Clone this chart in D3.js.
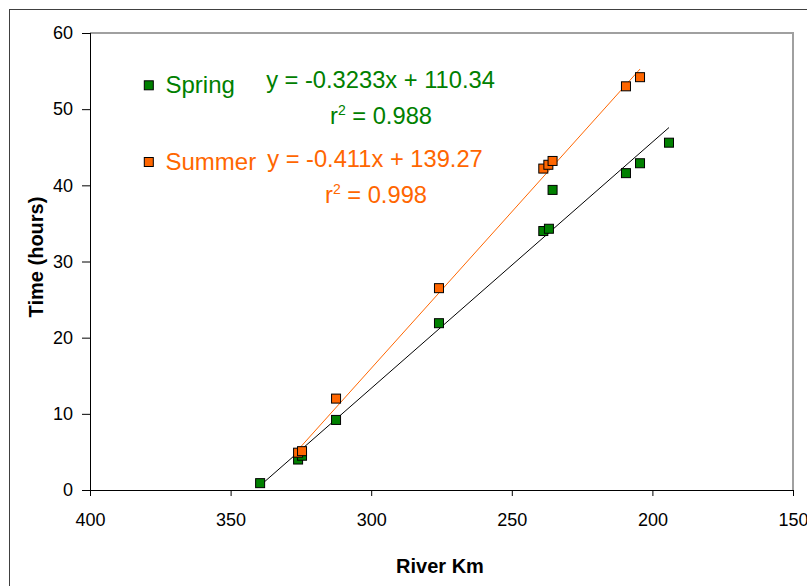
<!DOCTYPE html>
<html><head><meta charset="utf-8">
<script src="https://cdn.jsdelivr.net/npm/d3@7"></script>
<style>body{margin:0;background:#fff}svg{display:block}text{font-family:"Liberation Sans",Arial,sans-serif}</style>
</head><body>
<svg id="c" width="807" height="586"></svg>
<script>
const springKm = [339.5, 326, 324.6, 312.5, 275.9, 238.8, 236.8, 235.5, 209.4, 204.4, 194.1];
const springHours = [0.9, 4.0, 4.5, 9.2, 21.9, 34.0, 34.3, 39.4, 41.6, 42.9, 45.6];
const summerKm = [326, 324.6, 312.5, 275.9, 238.8, 237.0, 235.5, 209.4, 204.4];
const summerHours = [4.9, 5.1, 12.0, 26.5, 42.2, 42.7, 43.2, 53.0, 54.2];
const seriesNames = ["Spring", "Summer"];
const slopes = [-0.3233, -0.411];
const intercepts = [110.34, 139.27];
const equations = ["y = -0.3233x + 110.34", "y = -0.411x + 139.27"];
const rSquared = ["0.988", "0.998"];
const xTicks = [400, 350, 300, 250, 200, 150];
const yTicks = [0, 10, 20, 30, 40, 50, 60];

const svg = d3.select("#c");
const L = 90, R = 793, T = 33, B = 490;
const x = d3.scaleLinear().domain([400, 150]).range([L, R]);
const y = d3.scaleLinear().domain([0, 60]).range([B, T]);
const colors = ["#008000", "#ff6600"];
const FF = '"Liberation Sans",Arial,sans-serif';

// outer border
svg.append("rect").attr("x", 9.5).attr("y", 9.5).attr("width", 820).attr("height", 620)
  .attr("fill", "none").attr("stroke", "#404040").attr("stroke-width", 1);
// plot area border (top/right)
svg.append("path").attr("d", `M${L},${T}H${R}V${B}`).attr("fill", "none")
  .attr("stroke", "#a0a0a0").attr("stroke-width", 2);

// axes
const xa = svg.append("g").attr("transform", `translate(0,${B})`)
  .call(d3.axisBottom(x).tickValues(xTicks).tickSize(6).tickFormat(d3.format("d")));
const ya = svg.append("g").attr("transform", `translate(${L},0)`)
  .call(d3.axisLeft(y).tickValues(yTicks).tickSize(8).tickPadding(9).tickFormat(d3.format("d")));
[xa, ya].forEach(g => {
  g.select(".domain").attr("stroke", "#000");
  g.selectAll(".tick line").attr("stroke", "#000");
  g.selectAll("text").attr("font-size", 18).attr("fill", "#000").attr("font-family", FF);
});
xa.selectAll(".tick text").attr("y", 36).attr("dy", 0);
xa.select(".domain").attr("d", `M${L},0.5H${R}`);
ya.select(".domain").attr("d", `M0.5,${B}V${T}`);

// axis titles
svg.append("text").attr("x", 440).attr("y", 573).attr("text-anchor", "middle")
  .attr("font-size", 20).attr("font-weight", "bold").text("River Km");
svg.append("text").attr("transform", "translate(43,257) rotate(-90)").attr("text-anchor", "middle")
  .attr("font-size", 20).attr("font-weight", "bold").text("Time (hours)");

// trendlines
const sets = [[springKm, springHours], [summerKm, summerHours]];
sets.forEach(([kms], i) => {
  const x0 = d3.max(kms), x1 = d3.min(kms);
  svg.append("line")
    .attr("x1", x(x0)).attr("y1", y(slopes[i] * x0 + intercepts[i]))
    .attr("x2", x(x1)).attr("y2", y(slopes[i] * x1 + intercepts[i]))
    .attr("stroke", i === 0 ? "#000" : "#ff6600").attr("stroke-width", 1);
});

// points
const ms = 9;
sets.forEach(([kms, hrs], i) => {
  svg.append("g").selectAll("rect").data(kms.map((k, j) => [k, hrs[j]])).join("rect")
    .attr("x", d => x(d[0]) - ms / 2).attr("y", d => y(d[1]) - ms / 2)
    .attr("width", ms).attr("height", ms)
    .attr("fill", colors[i]).attr("stroke", "#000").attr("stroke-width", 1);
});

// legend
const legMarkY = [85.3, 162], legTextY = [92.7, 170];
seriesNames.forEach((n, i) => {
  svg.append("rect").attr("x", 144.3).attr("y", legMarkY[i] - 4.5).attr("width", 9).attr("height", 9)
    .attr("fill", colors[i]).attr("stroke", "#000").attr("stroke-width", 1);
  svg.append("text").attr("x", 165.5).attr("y", legTextY[i]).attr("font-size", 24)
    .attr("fill", colors[i]).text(n);
});
const eqX = [380.5, 375], eqY = [87.5, 166.7], rX = [381, 376], rY = [123.5, 202.7];
equations.forEach((e, i) => {
  svg.append("text").attr("x", eqX[i]).attr("y", eqY[i]).attr("text-anchor", "middle")
    .attr("font-size", 23.7).attr("fill", colors[i]).text(e);
  const t = svg.append("text").attr("x", rX[i]).attr("y", rY[i]).attr("text-anchor", "middle")
    .attr("font-size", 23.7).attr("fill", colors[i]);
  t.append("tspan").text("r");
  t.append("tspan").attr("dy", -9).attr("font-size", 14).text("2");
  t.append("tspan").attr("dy", 9).text(" = " + rSquared[i]);
});
</script>
</body></html>
